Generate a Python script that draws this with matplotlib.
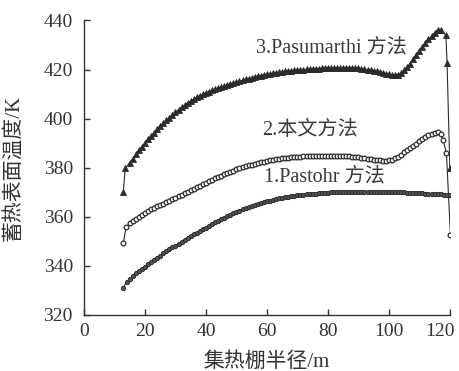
import matplotlib
matplotlib.use("Agg")
import matplotlib.pyplot as plt
import matplotlib.transforms as mtrans

# ---------------- data ----------------
# Radius (m) sampling of the curves
r_mid = [15, 16, 17, 18, 19, 20, 21, 22, 23, 24, 25, 26, 27, 28, 29, 30,
         31, 32, 33, 34, 35, 36, 37, 38, 39, 40, 41, 42, 43, 44, 45, 46,
         47, 48, 49, 50, 51, 52, 53, 54, 55, 56, 57, 58, 59, 60, 61, 62,
         63, 64, 65, 66, 67, 68, 69, 70, 71, 72, 73, 74, 75, 76, 77, 78,
         79, 80, 81, 82, 83, 84, 85, 86, 87, 88, 89, 90, 91, 92, 93, 94,
         95, 96, 97, 98, 99, 100, 101, 102, 103, 104, 105, 106, 107, 108,
         109, 110, 111, 112, 113, 114, 115, 116, 117]

# 3. Pasumarthi method
x_pas = [12.9, 13.5] + r_mid + [118.7, 119.1, 120.0]
y_pas = [370.0, 379.7,
         382.0, 383.7, 385.4, 387.1, 388.6, 390.1, 391.6, 393.0, 394.3, 395.6,
         396.9, 398.1, 399.3, 400.4, 401.5, 402.6, 403.6, 404.6, 405.5, 406.4,
         407.2, 408.0, 408.7, 409.4, 410.0, 410.5, 411.0, 411.5, 412.0, 412.4,
         412.8, 413.2, 413.6, 414.0, 414.4, 414.8, 415.2, 415.6, 416.0, 416.3,
         416.6, 416.9, 417.2, 417.5, 417.8, 418.0, 418.2, 418.4, 418.6, 418.8,
         419.0, 419.2, 419.3, 419.5, 419.6, 419.8, 419.9, 420.0, 420.1, 420.2,
         420.3, 420.4, 420.4, 420.5, 420.5, 420.6, 420.6, 420.6, 420.6, 420.6,
         420.6, 420.6, 420.6, 420.6, 420.6, 420.5, 420.3, 420.1, 419.9, 419.7,
         419.5, 419.2, 418.9, 418.6, 418.3, 418.0, 417.8, 417.6, 417.8, 418.7,
         419.8, 421.0, 422.4, 424.1, 425.8, 427.5, 429.1, 430.8, 432.4, 433.6,
         435.0, 436.2, 436.0,
         434.0, 422.6, 380.0]

# 2. present method
x_new = [12.9, 13.8] + r_mid + [117.8, 118.9, 120.2]
y_new = [349.3, 355.7,
         357.3, 358.2, 359.1, 360.0, 360.8, 361.6, 362.3, 363.0, 363.6, 364.2,
         364.8, 365.4, 366.0, 366.6, 367.2, 367.8, 368.4, 369.0, 369.6, 370.2,
         370.8, 371.4, 372.0, 372.6, 373.2, 373.8, 374.4, 375.0, 375.6, 376.2,
         376.7, 377.3, 377.8, 378.3, 378.8, 379.3, 379.7, 380.1, 380.5, 380.9,
         381.3, 381.6, 381.9, 382.2, 382.5, 382.8, 383.0, 383.2, 383.4, 383.6,
         383.8, 383.9, 384.1, 384.2, 384.3, 384.4, 384.5, 384.6, 384.7, 384.7,
         384.8, 384.8, 384.9, 384.9, 384.9, 384.9, 384.9, 384.9, 384.9, 384.8,
         384.8, 384.7, 384.6, 384.5, 384.4, 384.3, 384.1, 383.9, 383.7, 383.5,
         383.3, 383.1, 383.0, 382.9, 382.9, 383.0, 383.3, 383.8, 384.5, 385.3,
         386.2, 387.1, 388.0, 388.9, 389.8, 390.7, 391.6, 392.5, 393.2, 393.7,
         394.2, 394.4, 393.7,
         391.2, 385.8, 352.5]

# 1. Pastohr method
x_pto = [12.8, 14.0] + r_mid + [118, 119, 120.2]
y_pto = [331.0, 333.5,
         334.8, 335.9, 336.9, 337.9, 338.8, 339.7, 340.6, 341.5, 342.4, 343.3,
         344.2, 345.1, 345.9, 346.7, 347.5, 348.3, 349.1, 349.9, 350.7, 351.4,
         352.1, 352.8, 353.5, 354.2, 354.9, 355.6, 356.3, 357.0, 357.7, 358.4,
         359.0, 359.6, 360.2, 360.8, 361.4, 362.0, 362.5, 363.0, 363.5, 364.0,
         364.4, 364.8, 365.2, 365.6, 366.0, 366.3, 366.6, 366.9, 367.2, 367.5,
         367.7, 367.9, 368.1, 368.3, 368.5, 368.7, 368.9, 369.0, 369.1, 369.2,
         369.3, 369.4, 369.5, 369.6, 369.7, 369.8, 369.9, 370.0, 370.0, 370.1,
         370.1, 370.2, 370.2, 370.2, 370.3, 370.3, 370.3, 370.3, 370.3, 370.3,
         370.3, 370.2, 370.2, 370.2, 370.1, 370.1, 370.0, 370.0, 370.0, 369.9,
         369.9, 369.8, 369.8, 369.7, 369.6, 369.6, 369.5, 369.4, 369.4, 369.3,
         369.2, 369.2, 369.1,
         369.0, 369.0, 369.0]

labels = ["3.Pasumarthi 方法", "2.本文方法", "1.Pastohr 方法"]
label_pos = [(56.5, 428.6), (58.3, 395.2), (59.2, 376.3)]

x_ticks = [0, 20, 40, 60, 80, 100, 120]
y_ticks = [320, 340, 360, 380, 400, 420, 440]
x_label = "集热棚半径/m"
y_label = "蓄热表面温度/K"

# ---------------- plot ----------------
fam = ["Liberation Serif", "Noto Sans CJK SC", "DejaVu Sans"]
plt.rcParams["font.family"] = fam

fig = plt.figure(figsize=(4.59, 3.71), dpi=100)
ax = fig.add_axes([0.183, 0.151, 0.797, 0.794])

c = "#2b2b2b"
ax.plot(x_pas, y_pas, color=c, lw=0.8, marker="^", ms=4.0, mfc=c, mec=c, mew=0.6)
ax.plot(x_new, y_new, color=c, lw=0.8, marker="o", ms=3.4, mfc="white", mec=c, mew=0.9)
ax.plot(x_pto, y_pto, color=c, lw=0.8, marker="o", ms=3.0, mfc="#555555", mec=c, mew=0.7)

for txt, (tx, ty) in zip(labels, label_pos):
    ax.text(tx, ty, txt, fontsize=14.5, color="#3a3a3a", ha="left", va="center")

ax.set_xlim(0, 120)
ax.set_ylim(320, 440)
ax.set_xticks(x_ticks)
ax.set_yticks(y_ticks)
ax.tick_params(direction="in", length=4, width=1, colors="#333333", labelsize=14)
ax.tick_params(axis="y", pad=8)
ax.tick_params(axis="x", pad=6)
for s in ["top", "right"]:
    ax.spines[s].set_visible(False)
for s in ["left", "bottom"]:
    ax.spines[s].set_color("#333333")
    ax.spines[s].set_linewidth(1.0)

# last x tick label sits slightly left of its tick in the reference
last = ax.get_xticklabels()[-1]
last.set_transform(last.get_transform() +
                   mtrans.ScaledTranslation(-7 / 72, 0, fig.dpi_scale_trans))

ax.set_xlabel(x_label, fontsize=15, color="#333333")
ax.set_ylabel(y_label, fontsize=15, color="#333333")
ax.xaxis.set_label_coords(0.5, -0.128)
ax.yaxis.set_label_coords(-0.165, 0.5)

fig.savefig("out.png", dpi=100, facecolor="white")
